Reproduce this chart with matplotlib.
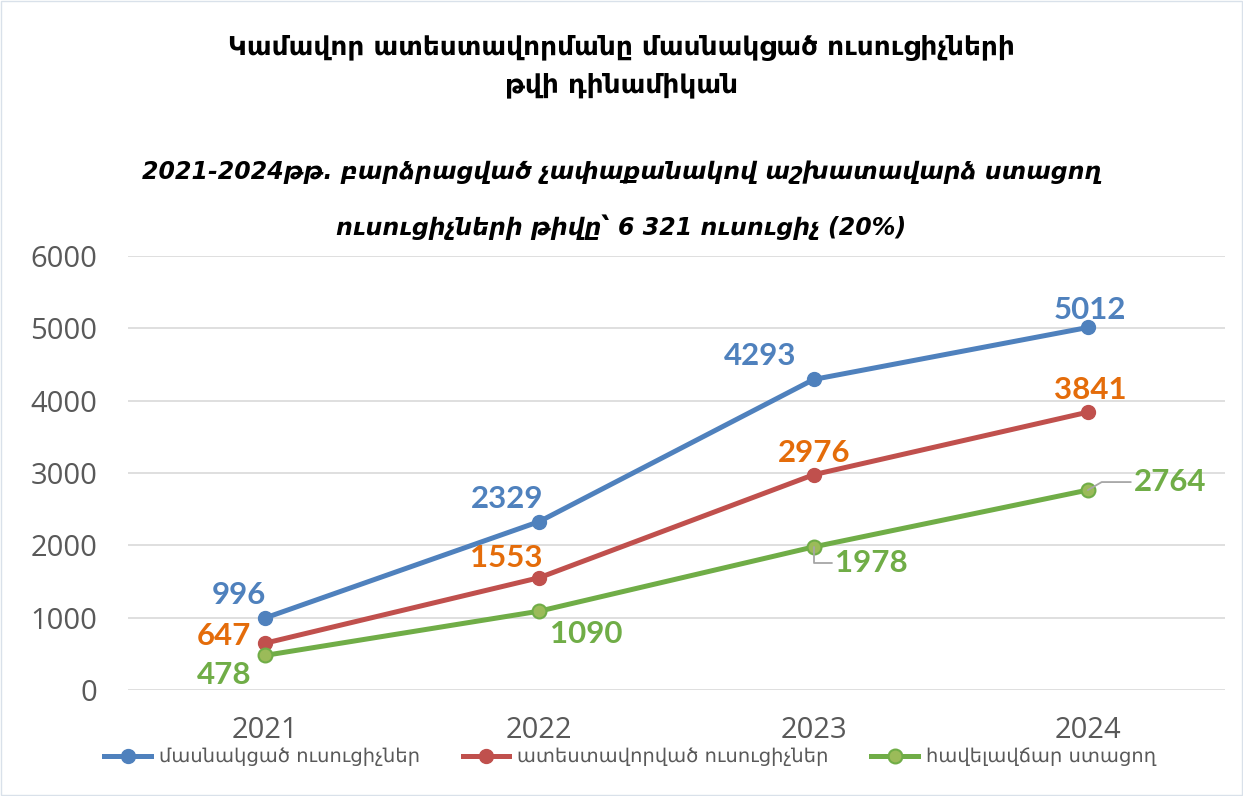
import matplotlib
matplotlib.use("Agg")
import matplotlib.pyplot as plt

years = ["2021", "2022", "2023", "2024"]
participated = [996, 2329, 4293, 5012]
certified = [647, 1553, 2976, 3841]
satisfactory = [478, 1090, 1978, 2764]

series_names = ["մասնակցած ուսուցիչներ", "ատեստավորված ուսուցիչներ", "հավելավճար ստացող"]
title_lines = ["Կամավոր ատեստավորմանը մասնակցած ուսուցիչների", "թվի դինամիկան"]
subtitle_lines = ["2021-2024թթ. բարձրացված չափաքանակով աշխատավարձ ստացող",
                  "ուսուցիչների թիվը՝ 6 321 ուսուցիչ (20%)"]

BLUE = "#4F81BD"
RED = "#C0504D"
ORANGE = "#E46C0A"
GREEN = "#70AD47"
GREEN_FILL = "#9BBB59"

# label offsets in pixels for each point
blue_off = [(-26, 23), (-32, 23), (-53, 23), (2, 17)]
red_off = [(-41, 7), (-33, 20), (1, 22), (2, 22)]
green_off = [(-41, -20), (47, -23), (58, -16), (82, 8)]

fig = plt.figure(figsize=(12.43, 7.96), dpi=100)
fig.patch.set_facecolor("white")
ax = fig.add_axes([0.103, 0.1332, 0.8825, 0.5452])

x = list(range(len(years)))
ax.plot(x, participated, color=BLUE, lw=3.6, marker="o", ms=10, mfc=BLUE, mec=BLUE,
        label=series_names[0], zorder=3)
ax.plot(x, certified, color=RED, lw=3.6, marker="o", ms=10, mfc=RED, mec=RED,
        label=series_names[1], zorder=3)
ax.plot(x, satisfactory, color=GREEN, lw=3.6, marker="o", ms=10, mfc=GREEN_FILL, mec=GREEN,
        mew=1.5, label=series_names[2], zorder=3)

lbl = dict(fontsize=22.5, fontweight="bold", family="Lato", ha="center", va="center",
           textcoords="offset pixels")
for i in x:
    ax.annotate(str(participated[i]), (i, participated[i]), xytext=blue_off[i], color=BLUE, **lbl)
    ax.annotate(str(certified[i]), (i, certified[i]), xytext=red_off[i], color=ORANGE, **lbl)
    if i < 2:
        ax.annotate(str(satisfactory[i]), (i, satisfactory[i]), xytext=green_off[i], color=GREEN, **lbl)

# leader lines for the last two green labels
ax.annotate(str(satisfactory[2]), (2, satisfactory[2]), xytext=green_off[2], color=GREEN,
            arrowprops=dict(arrowstyle="-", color="#A6A6A6", lw=1.3,
                            connectionstyle="angle,angleA=0,angleB=-90,rad=0",
                            shrinkA=28, shrinkB=0), **lbl)
ax.annotate(str(satisfactory[3]), (3, satisfactory[3]), xytext=green_off[3], color=GREEN,
            arrowprops=dict(arrowstyle="-", color="#A6A6A6", lw=1.3,
                            connectionstyle="angle,angleA=0,angleB=30,rad=0",
                            shrinkA=38, shrinkB=0), **lbl)

ax.set_xlim(-0.5, 3.5)
ax.set_ylim(0, 6000)
ax.set_yticks(range(0, 6001, 1000))
ax.set_xticks(x)
ax.set_xticklabels(years)
ax.grid(axis="y", color="#D9D9D9", lw=1.2, zorder=0)
ax.set_axisbelow(True)
for s in ax.spines.values():
    s.set_visible(False)
ax.tick_params(length=0, labelsize=21, labelcolor="#595959")
ax.tick_params(axis="y", pad=22)
ax.tick_params(axis="x", pad=19)
for t in ax.get_xticklabels() + ax.get_yticklabels():
    t.set_family("Open Sans")

fig.text(0.5, 0.940, title_lines[0], ha="center", va="center", fontsize=19,
         fontweight="bold", family="DejaVu Sans")
fig.text(0.5, 0.893, title_lines[1], ha="center", va="center", fontsize=19,
         fontweight="bold", family="DejaVu Sans")
fig.text(0.5, 0.784, subtitle_lines[0], ha="center", va="center", fontsize=17,
         fontweight="bold", style="italic", family="DejaVu Sans")
fig.text(0.5, 0.714, subtitle_lines[1], ha="center", va="center", fontsize=17,
         fontweight="bold", style="italic", family="DejaVu Sans")

leg = fig.legend(loc="center", bbox_to_anchor=(0.507, 0.049), ncol=3, frameon=False,
                 handlelength=2.4, columnspacing=2.2, handletextpad=0.4,
                 prop={"family": "DejaVu Sans", "size": 14})
for t in leg.get_texts():
    t.set_color("#595959")

fig.patches.append(plt.Rectangle((0.001, 0.001), 0.998, 0.998, transform=fig.transFigure,
                                 fill=False, edgecolor="#D9E1EA", lw=1))

fig.savefig("out.png", dpi=100)
